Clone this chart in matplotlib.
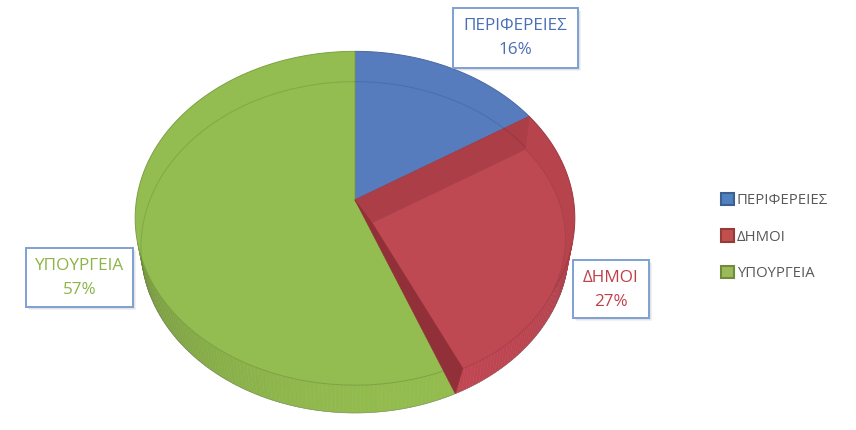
import numpy as np
import matplotlib.pyplot as plt
from matplotlib.patches import Polygon, Rectangle, Patch
from matplotlib.colors import to_rgb

# data
categories = ["ΠΕΡΙΦΕΡΕΙΕΣ", "ΔΗΜΟΙ", "ΥΠΟΥΡΓΕΙΑ"]
shares = [16, 27, 57]

top_colors = ["#567CBE", "#BF4952", "#93BD50"]
wall_colors = ["#4F73B2", "#BC4551", "#90B84D"]
legend_colors = ["#4F81BD", "#C0504D", "#9BBB59"]
legend_edges = ["#3B5F91", "#963A38", "#6F8C3C"]
label_colors = ["#4A6FB5", "#C0404A", "#8CB447"]

FONT = ["Open Sans", "DejaVu Sans"]

# 3d pie view (screen pixels)
CX, CY = 355, 200
FOCAL, DIST = 1311.0, 6.0
ELEV = np.radians(49)
THICK = 0.2125
ce, se = np.cos(ELEV), np.sin(ELEV)


def proj(theta, rho=1.0, z=0.0):
    theta = np.atleast_1d(np.asarray(theta, float))
    X = rho * np.sin(theta)
    Y = rho * np.cos(theta)
    depth = DIST + Y * ce - z * se
    sx = FOCAL * X / depth
    sy = FOCAL * (Y * se + z * ce) / depth
    return np.column_stack([CX + sx, CY - sy])


def shade(theta):
    return 0.82 + 0.2 * np.cos(theta - np.radians(165))


def darker(c, f=0.8):
    return tuple(np.clip(np.array(to_rgb(c)) * f, 0, 1))


fig = plt.figure(figsize=(8.56, 4.30), dpi=100)
ax = fig.add_axes([0, 0, 1, 1])
ax.set_xlim(0, 856)
ax.set_ylim(430, 0)
ax.axis("off")

fr = np.array(shares, float) / sum(shares)
edges = np.concatenate([[0], np.cumsum(fr)]) * 2 * np.pi

# side walls (front part only)
vis_lo = np.arccos(-1 / (DIST * ce))
vis_hi = 2 * np.pi - vis_lo
for i in range(len(shares)):
    a0, a1 = max(edges[i], vis_lo), min(edges[i + 1], vis_hi)
    if a1 <= a0:
        continue
    ts = np.linspace(a0, a1, int(np.degrees(a1 - a0)) + 2)
    base = np.array(to_rgb(wall_colors[i]))
    for t0, t1 in zip(ts[:-1], ts[1:]):
        quad = np.vstack([proj([t0, t1]), proj([t1, t0], z=-THICK)])
        col = np.clip(base * shade((t0 + t1) / 2), 0, 1)
        ax.add_patch(Polygon(quad, closed=True, fc=col, ec=col, lw=0.4))
ts = np.linspace(vis_lo, vis_hi, 300)
ax.plot(*proj(ts, z=-THICK).T, color="#6b6b6b", lw=0.5, alpha=0.5)

# top faces (blue, green)
for i in (0, 2):
    ts = np.linspace(edges[i], edges[i + 1], 300)
    poly = np.vstack([[CX, CY], proj(ts)])
    ax.add_patch(Polygon(poly, closed=True, fc=top_colors[i],
                         ec=darker(top_colors[i], 0.85), lw=0.7))

# faint see-through edge of the base
ts = np.linspace(vis_hi, 2 * np.pi + edges[1], 300)
ax.plot(*proj(ts, z=-THICK).T, color="black", lw=0.8, alpha=0.10)

# red slice drawn hollow like the excel render
VP = np.array([496.0, 390.0])
K = 0.88
red_ts = np.linspace(edges[1], edges[2], 300)
rim = proj(red_ts)
apex = np.array([CX, CY], float)
sector = np.vstack([apex, rim])
inner = VP + K * (sector - VP)
ax.add_patch(Polygon(sector, closed=True, fc="#B7434D", ec="#9C3A42", lw=0.7))
ax.add_patch(Polygon(np.vstack([apex, rim[0], inner[1], inner[0]]),
                     closed=True, fc="#AC3E48", ec="#AC3E48", lw=0.4))
ax.add_patch(Polygon(inner, closed=True, fc=top_colors[1], ec="#A8414A", lw=0.6))
strip = np.vstack([apex, proj(edges[2], z=-THICK)[0], inner[-1], inner[0]])
ax.add_patch(Polygon(strip, closed=True, fc="#913038", ec="#913038", lw=0.4))

# data labels in boxes
label_boxes = [(515.5, 8, 125, 60), (611, 260, 76, 58), (79.5, 248, 107, 59)]
for name, v, col, (bx, by, bw, bh) in zip(categories, shares, label_colors, label_boxes):
    for k, a in ((3, 0.10), (2, 0.12)):
        ax.add_patch(Rectangle((bx - bw / 2 + k, by + k), bw, bh, fc="#7f7f7f",
                               ec="none", alpha=a, zorder=5))
    ax.add_patch(Rectangle((bx - bw / 2, by), bw, bh, fc="white",
                           ec="#7DA0D4", lw=1.4, zorder=6))
    ax.text(bx, by + 18, name, ha="center", va="center", fontsize=12.3,
            color=col, family=FONT, zorder=7)
    ax.text(bx, by + 42.5, f"{v}%", ha="center", va="center", fontsize=12.3,
            color=col, family=FONT, zorder=7)

# legend
handles = [Patch(fc=c, ec=e, lw=1.5) for c, e in zip(legend_colors, legend_edges)]
ax.legend(handles, categories, loc="upper left", bbox_to_anchor=(715, 187),
          bbox_transform=ax.transData, frameon=False,
          prop={"family": FONT, "size": 10.7}, labelcolor="#595959",
          handlelength=0.9, handleheight=0.9, handletextpad=0.15,
          labelspacing=1.42, borderaxespad=0)

fig.savefig("out.png", dpi=100)
